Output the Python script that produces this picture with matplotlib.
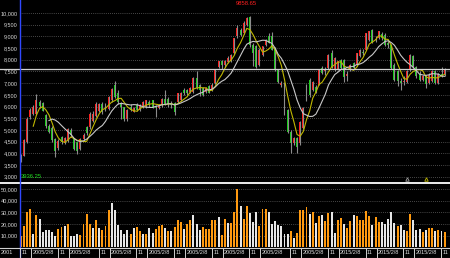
import numpy as np
import pandas as pd
import matplotlib
matplotlib.use("Agg")
import matplotlib.pyplot as plt
from matplotlib.lines import Line2D
from matplotlib.transforms import blended_transform_factory

# === price data ===
opens = [3700, 3900, 4480, 5540, 5700, 5700, 6180, 6140, 5650, 5180,
         5100, 4600, 4230, 4680, 4450, 4540, 5000, 4610, 4470, 4180,
         4600, 5110, 5110, 5400, 5610, 5800, 6100, 5900, 5900, 6260,
         6900, 6600, 6150, 5970, 5450, 6000, 5780, 6070, 5860, 6000,
         6000, 6210, 6280, 6000, 5930, 6070, 6310, 6310, 6100, 6140,
         6210, 6280, 6700, 6710, 6640, 6640, 7210, 6930, 6790, 6640,
         6860, 6710, 7000, 7710, 7930, 7780, 7900, 7930, 8290, 9000,
         9290, 9140, 9500, 9830, 8640, 8570, 7790, 8210, 8640, 9000,
         9000, 8500, 7570, 6930, 7000, 5860, 4930, 4430, 4650, 4430,
         5100, 6290, 7140, 6710, 6830, 6930, 7640, 7500, 7640, 8290,
         7570, 7570, 8000, 8000, 7300, 7570, 7860, 7790, 8140, 8350,
         8430, 8860, 9290, 8850, 8930, 9100, 9070, 8700, 8640, 7790,
         7500, 7100, 7050, 7070, 7570, 8140, 7700, 7400, 7150, 7300,
         7000, 7100, 7500, 7000, 7400, 7350]
highs = [3950, 4600, 5550, 5950, 6050, 6540, 6300, 6200, 5700, 5250,
         5150, 4650, 4600, 4750, 4700, 5100, 5100, 4650, 4500, 4650,
         4850, 5150, 5750, 5800, 6200, 6150, 6200, 6150, 6450, 6800,
         7110, 6700, 6200, 6000, 5900, 6100, 6000, 6150, 6100, 6250,
         6300, 6280, 6300, 6050, 6100, 6350, 6710, 6420, 6250, 6200,
         6600, 6620, 6800, 6750, 6850, 7250, 7500, 6980, 6850, 6850,
         6900, 7000, 7600, 7960, 8000, 8000, 8150, 8250, 8950, 9500,
         9350, 9650, 9840, 9858.65, 8700, 8650, 8500, 8600, 8900, 9150,
         9200, 8550, 7620, 7100, 7050, 5900, 5000, 4700, 4700, 5400,
         6000, 6950, 7200, 7100, 6900, 7600, 7750, 7700, 8250, 8430,
         8100, 7950, 8050, 8050, 7500, 7800, 7900, 8300, 8450, 8450,
         9150, 9250, 9300, 9000, 9250, 9200, 9150, 8800, 8680, 7850,
         7550, 7200, 7300, 7550, 8250, 8200, 7750, 7500, 7350, 7350,
         7450, 7550, 7550, 7450, 7700, 7650]
lows = [3620, 3880, 4450, 5450, 5650, 5650, 5950, 5800, 5100, 4850,
        4500, 3830, 4150, 4400, 4400, 4500, 4700, 4150, 3980, 4150,
        4550, 4800, 5050, 5350, 5550, 5750, 5700, 5800, 5850, 6200,
        6350, 6100, 5450, 5400, 5400, 5800, 5750, 5800, 5800, 5950,
        5950, 6000, 5950, 5570, 5900, 6000, 6050, 6000, 5950, 5640,
        6150, 6250, 6500, 6500, 6600, 6600, 6750, 6430, 6450, 6600,
        6570, 6650, 6950, 7650, 7600, 7700, 7850, 7900, 8250, 8950,
        9000, 9100, 9450, 8550, 7720, 7650, 7750, 8150, 8600, 8700,
        8400, 7500, 7000, 6850, 5650, 4850, 4000, 4350, 4000, 4350,
        5050, 6250, 6400, 6650, 6600, 6900, 7400, 7350, 7600, 7650,
        7500, 7550, 7600, 7070, 7100, 7500, 7600, 7750, 8100, 8200,
        8400, 8800, 8700, 8750, 8900, 8850, 8600, 8500, 7600, 7100,
        6860, 6710, 6900, 7000, 7500, 7650, 7200, 7100, 7100, 6800,
        6950, 7050, 6950, 6950, 7250, 7300]
closes = [3930, 4550, 5480, 5860, 5970, 6280, 6040, 5830, 5180, 4900,
          4550, 4120, 4540, 4470, 4650, 5040, 4800, 4180, 4110, 4610,
          4800, 4860, 5680, 5700, 6110, 6100, 5750, 5950, 6400, 6760,
          6400, 6200, 6000, 5470, 5860, 5860, 5930, 5860, 6070, 6210,
          6280, 6070, 6000, 5950, 6070, 6310, 6100, 6100, 6050, 5780,
          6570, 6570, 6600, 6570, 6790, 7210, 6790, 6710, 6500, 6790,
          6570, 6930, 7570, 7930, 7790, 7930, 8070, 8210, 8930, 9360,
          9070, 9570, 9790, 8640, 8290, 7710, 8430, 8570, 8860, 8720,
          8430, 7570, 7070, 7000, 5710, 4930, 4430, 4650, 4290, 5360,
          5950, 6930, 6500, 7070, 6640, 7570, 7430, 7550, 8210, 7710,
          8070, 7930, 7640, 7280, 7400, 7780, 7640, 8290, 8430, 8300,
          9140, 9220, 8710, 8900, 9210, 8950, 8640, 8650, 7640, 7140,
          7100, 7000, 7100, 7500, 8210, 7710, 7300, 7150, 7300, 6950,
          7350, 7500, 7000, 7400, 7350, 7620]
volumes = [9500, 18100, 29900, 33300, 11800, 27600, 24700, 13200, 15200, 15200,
           13200, 9800, 16100, 17500, 18400, 20400, 9500, 9500, 11200, 10300,
           20400, 29000, 20400, 17000, 23300, 17000, 14700, 18400, 31900, 38200,
           31900, 19000, 14700, 11800, 14700, 11800, 16700, 17500, 13800, 11200,
           11800, 17000, 12400, 16100, 18100, 19000, 17000, 13800, 13800, 17500,
           23300, 21800, 15500, 20400, 23300, 27600, 19800, 14700, 17500, 15500,
           16100, 23300, 23300, 26100, 10900, 24700, 21000, 21000, 29900, 50000,
           35600, 24700, 35300, 29300, 21800, 30700, 18100, 32800, 33300, 29900,
           20400, 22400, 19500, 18100, 11800, 11200, 13800, 8300, 12600, 31900,
           31900, 34800, 28400, 30500, 21300, 26700, 27600, 22700, 29600, 29900,
           12600, 23300, 25600, 19800, 16700, 22400, 27600, 26700, 23300, 23300,
           31000, 26700, 19000, 26100, 21800, 21800, 20400, 24700, 29900, 21300,
           18100, 19500, 14700, 13800, 28200, 23300, 15200, 16100, 13200, 14700,
           17000, 17000, 13800, 15200, 13800, 13000]
# 1 = up-volume (orange), 0 = down-volume (white), as seen on the chart
vol_up = [1, 1, 1, 1, 0, 1, 0, 0, 0, 0,
          0, 0, 1, 1, 0, 1, 0, 0, 0, 1,
          1, 1, 1, 0, 1, 0, 1, 1, 1, 0,
          0, 0, 0, 0, 0, 1, 0, 1, 1, 0,
          1, 0, 0, 1, 1, 1, 0, 1, 0, 1,
          1, 1, 0, 1, 1, 0, 0, 0, 1, 1,
          1, 1, 1, 0, 1, 1, 0, 1, 1, 1,
          0, 1, 1, 0, 0, 0, 1, 1, 1, 0,
          0, 0, 0, 0, 0, 0, 1, 0, 1, 1,
          1, 1, 0, 1, 0, 1, 0, 1, 1, 0,
          0, 1, 1, 0, 1, 1, 0, 1, 1, 1,
          1, 1, 0, 1, 1, 0, 0, 0, 0, 0,
          1, 0, 0, 1, 1, 0, 0, 0, 1, 0,
          1, 1, 0, 1, 0, 1]

price_ticks = list(range(3000, 10001, 500))
vol_ticks = [10000, 20000, 30000, 40000, 50000]
max_label = "9858.65"
min_label = "3936.25"
first_label = "2001"
tick_idx = [0, 12, 25, 37, 49, 61, 73, 86, 98, 110, 122, 134]
date_labels = ["2005/2/8"] * 8 + ["2015/2/8"] * 3 + [""]

plt.rcParams["font.family"] = ["Liberation Sans", "DejaVu Sans"]

W, H = 450, 258
fig = plt.figure(figsize=(W / 100, H / 100), dpi=100, facecolor="black")


def fy(py):
    return 1 - py / H


ax = fig.add_axes([20 / W, fy(182), 430 / W, 182 / H])
ax2 = fig.add_axes([20 / W, fy(247.4), 430 / W, (247.4 - 184) / H])

o = np.array(opens, float)
c = np.array(closes, float)
hi = np.array(highs, float)
lo = np.array(lows, float)
x = np.arange(len(c))
up = c >= o

for a in (ax, ax2):
    a.set_facecolor("black")
    for s in a.spines.values():
        s.set_visible(False)
    a.set_xlim(-0.22, 136.7)
    a.set_xticks([])
    a.tick_params(axis="y", colors="#d8d8d8", labelsize=4, length=0, pad=1.5)
    a.grid(axis="y", color="#8a8a8a", lw=0.5, ls=(0, (1, 2)))
    a.set_axisbelow(True)

# --- candles ---
ax.vlines(x, lo, hi, color="#8c8c8c", lw=0.8)
ax.bar(x, np.maximum(np.abs(c - o), 15), bottom=np.minimum(o, c), width=0.62,
       color=np.where(up, "#ff1a1a", "#16d016"), lw=0)

# moving averages
ma_fast = pd.Series(c).rolling(5).mean()
ma_slow = pd.Series(c).rolling(10).mean()
ax.plot(x, ma_fast, color="#c0b800", lw=0.8)
ax.plot(x, ma_slow, color="#c8c8c8", lw=0.8)

ax.set_ylim(2773, 10556)
ax.set_yticks(price_ticks)
ax.set_yticklabels([f"{v:,}" for v in price_ticks])

imax = int(np.argmax(hi))
ax.text(imax - 1, 10420, max_label, color="#ff2020", fontsize=4.2,
        ha="center", va="center")
ax.text(0.15, 2990, min_label, color="#20e020", fontsize=4.2,
        ha="left", va="center")

# small signal markers near the bottom
ax.plot([123], [2920], marker="^", ms=2.5, mfc="none", mec="#a0a0a0", mew=0.6)
ax.plot([129], [2920], marker="^", ms=2.5, mfc="none", mec="#c0b800", mew=0.6)

# --- volume ---
vcol = np.where(np.array(vol_up) == 1, "#ff9a10", "#e6e6e6")
ax2.bar(x, volumes, width=0.62, color=vcol, lw=0)
ax2.set_ylim(0, 54300)
ax2.set_yticks(vol_ticks)
ax2.set_yticklabels([f"{v:,}" for v in vol_ticks])

# last price line across whole width
tr = blended_transform_factory(fig.transFigure, ax.transData)
fig.add_artist(Line2D([0, 1], [c[-1], c[-1]], transform=tr, color="#d0d0d0", lw=0.9))

# panel separator and left blue edge
fig.add_artist(Line2D([0, 1], [fy(182.6), fy(182.6)], color="white", lw=1.3))
fig.add_artist(Line2D([20 / W, 20 / W], [0, 1], color="#3048ff", lw=1))

# --- date strip ---
fig.add_artist(Line2D([0, 1], [fy(248), fy(248)], color="#d0d0d0", lw=0.8))
fig.add_artist(Line2D([0, 1], [fy(257.5), fy(257.5)], color="#606060", lw=0.8))
fig.text(1 / W, fy(253), first_label, color="#e0e0e0", fontsize=4, va="center")
trd = blended_transform_factory(ax2.transData, fig.transFigure)
for i, lab in zip(tick_idx, date_labels):
    for sep in (i - 0.2, i + 3.3):
        fig.add_artist(Line2D([sep, sep], [fy(257.5), fy(248)], transform=trd,
                              color="#d0d0d0", lw=0.7))
    ax2.text(i + 0.3, fy(253), "11", transform=trd, color="#e0e0e0",
             fontsize=4, va="center", clip_on=False)
    ax2.text(i + 3.7, fy(253), lab, transform=trd, color="#e0e0e0",
             fontsize=4, va="center", clip_on=False)

fig.savefig("out.png", dpi=100, facecolor="black")
